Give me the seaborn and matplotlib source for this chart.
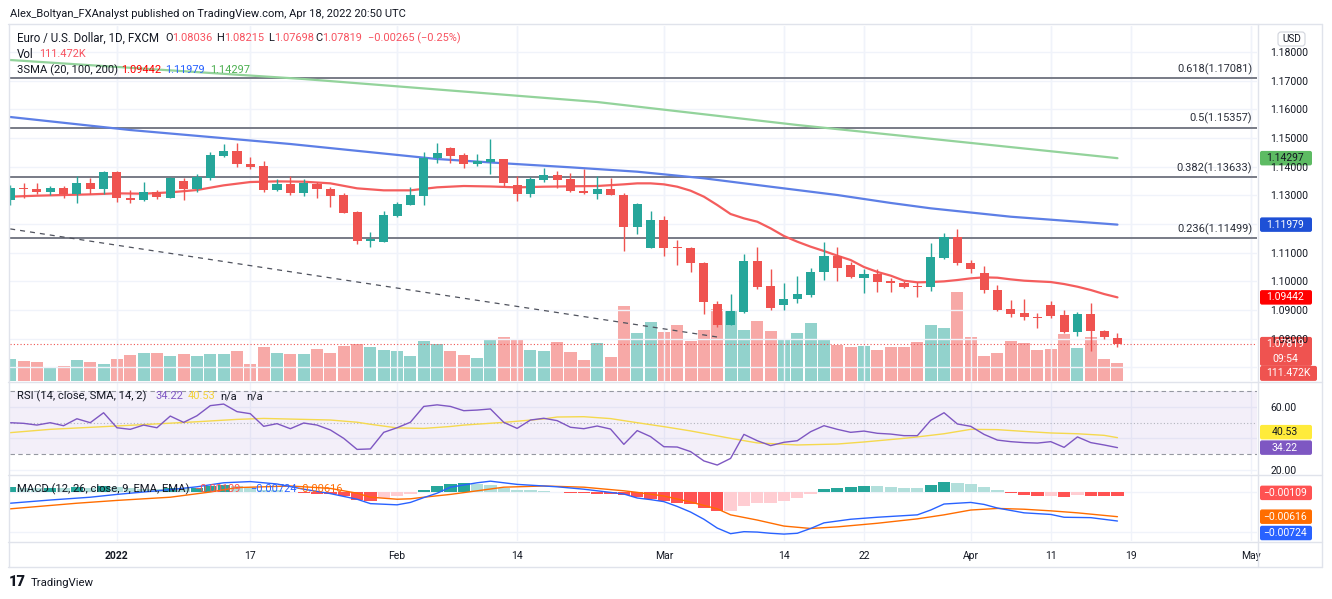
import numpy as np
import matplotlib
matplotlib.use("Agg")
import matplotlib.pyplot as plt
import matplotlib.transforms as mtrans
from matplotlib.patches import FancyBboxPatch
from matplotlib.lines import Line2D
from matplotlib.ticker import FuncFormatter
import seaborn as sns

# ---------------- data ----------------
open_ = [1.12838, 1.13245, 1.13210, 1.13105, 1.13245, 1.13058, 1.13442, 1.13210, 1.13814, 1.12919,
         1.12826, 1.13105, 1.12919, 1.13512, 1.13210, 1.13593, 1.14384, 1.14535, 1.14093, 1.14023,
         1.13186, 1.13407, 1.13070, 1.13384, 1.13233, 1.13000, 1.12407, 1.11419, 1.11384, 1.12279,
         1.12675, 1.12977, 1.14302, 1.14640, 1.14407, 1.14105, 1.14151, 1.14256, 1.13349, 1.13035,
         1.13547, 1.13709, 1.13558, 1.13151, 1.13058, 1.13221, 1.13023, 1.11884, 1.11163, 1.12140,
         1.11186, 1.11175, 1.10640, 1.09198, 1.08489, 1.08931, 1.10710, 1.09826, 1.09163, 1.09372,
         1.09524, 1.10314, 1.10884, 1.10570, 1.10128, 1.10256, 1.10012, 1.09942, 1.09849, 1.09814,
         1.10826, 1.11558, 1.10652, 1.10279, 1.09686, 1.09024, 1.08896, 1.08768, 1.09163, 1.08814,
         1.08233, 1.08873, 1.08268, 1.08036]
high = [1.13361, 1.13419, 1.13442, 1.13326, 1.13326, 1.13675, 1.13593, 1.13849, 1.13837, 1.13186,
        1.13465, 1.13186, 1.13628, 1.13593, 1.13744, 1.14512, 1.14791, 1.14814, 1.14326, 1.14198,
        1.13558, 1.13663, 1.13582, 1.13477, 1.13302, 1.13093, 1.12454, 1.11710, 1.12454, 1.12768,
        1.13279, 1.14512, 1.14814, 1.14674, 1.14465, 1.14442, 1.14953, 1.14279, 1.13675, 1.13651,
        1.13965, 1.13861, 1.13768, 1.13907, 1.13675, 1.13593, 1.13070, 1.12744, 1.12465, 1.12291,
        1.11442, 1.11210, 1.10663, 1.09314, 1.09559, 1.10954, 1.11210, 1.10431, 1.09931, 1.10198,
        1.10465, 1.11361, 1.11186, 1.10675, 1.10419, 1.10419, 1.10128, 1.10024, 1.09989, 1.11349,
        1.11675, 1.11837, 1.10745, 1.10535, 1.09872, 1.09338, 1.09372, 1.08907, 1.09326, 1.09000,
        1.08919, 1.09233, 1.08303, 1.08215]
low = [1.12663, 1.12896, 1.13047, 1.13012, 1.12896, 1.12721, 1.13047, 1.13047, 1.12779, 1.12721,
       1.12791, 1.12861, 1.12896, 1.12838, 1.13128, 1.13535, 1.14326, 1.13977, 1.13907, 1.13128,
       1.13151, 1.13023, 1.12989, 1.12896, 1.12605, 1.12372, 1.11303, 1.11210, 1.11361, 1.12233,
       1.12651, 1.12675, 1.14116, 1.14140, 1.13965, 1.14035, 1.13756, 1.13326, 1.12802, 1.12954,
       1.13454, 1.13245, 1.13116, 1.13060, 1.12884, 1.13000, 1.11070, 1.11651, 1.11151, 1.10896,
       1.10570, 1.10338, 1.08849, 1.08396, 1.08477, 1.08907, 1.09745, 1.09000, 1.09000, 1.09256,
       1.09466, 1.10047, 1.10024, 1.10105, 1.09582, 1.09628, 1.09640, 1.09779, 1.09442, 1.09675,
       1.10768, 1.10582, 1.10279, 1.09593, 1.08966, 1.08745, 1.08652, 1.08361, 1.08733, 1.08210,
       1.08094, 1.07570, 1.07977, 1.07698]
close = [1.13245, 1.13210, 1.13105, 1.13245, 1.13058, 1.13419, 1.13210, 1.13826, 1.12896, 1.12838,
         1.13105, 1.12930, 1.13593, 1.13210, 1.13640, 1.14407, 1.14535, 1.14105, 1.14000, 1.13186,
         1.13407, 1.13082, 1.13442, 1.13210, 1.12989, 1.12384, 1.11419, 1.11477, 1.12303, 1.12698,
         1.13000, 1.14314, 1.14477, 1.14384, 1.14105, 1.14198, 1.14256, 1.13419, 1.13035, 1.13558,
         1.13709, 1.13547, 1.13163, 1.13070, 1.13221, 1.13012, 1.11884, 1.12698, 1.12140, 1.11163,
         1.11151, 1.10628, 1.09268, 1.08489, 1.08966, 1.10710, 1.09791, 1.09082, 1.09372, 1.09547,
         1.10326, 1.10896, 1.10477, 1.10140, 1.10256, 1.09989, 1.09931, 1.09803, 1.09814, 1.10838,
         1.11558, 1.10640, 1.10442, 1.09686, 1.09000, 1.08873, 1.08756, 1.08733, 1.08803, 1.08233,
         1.08873, 1.08256, 1.08059, 1.07819]
volume_k = [134, 124, 119, 85, 93, 130, 116, 103, 138, 161,
            171, 175, 153, 167, 157, 167, 167, 186, 107, 210,
            171, 167, 167, 198, 175, 217, 227, 209, 194, 186,
            157, 248, 227, 186, 161, 142, 254, 274, 258, 190,
            186, 243, 180, 130, 233, 150, 466, 297, 365, 303,
            347, 249, 316, 444, 438, 316, 373, 308, 254, 297,
            357, 260, 221, 209, 217, 190, 210, 209, 243, 347,
            328, 553, 271, 157, 175, 249, 235, 190, 198, 293,
            206, 274, 134, 111.472]

sma20_i = [0, 2, 4, 6, 8, 10, 12, 14, 16, 18, 20, 22, 24, 26, 28, 30, 32, 34, 36, 38, 40, 42, 44,
           46, 47, 48, 49, 50, 51, 52, 53, 54, 55, 56, 57, 58, 59, 60, 61, 62, 63, 64, 65, 66, 67,
           68, 69, 70, 71, 72, 73, 74, 75, 76, 77, 78, 79, 80, 81, 82, 83]
sma20_v = [1.12954, 1.12988, 1.13012, 1.13035, 1.13070, 1.13058, 1.13105, 1.13186, 1.13349, 1.13465,
           1.13488, 1.13477, 1.13419, 1.13245, 1.13175, 1.13175, 1.13280, 1.13326, 1.13310, 1.13279,
           1.13302, 1.13315, 1.13326, 1.13384, 1.13419, 1.13419, 1.13384, 1.13302, 1.13163, 1.12954,
           1.12663, 1.12349, 1.12198, 1.12081, 1.11849, 1.11582, 1.11384, 1.11210, 1.11058, 1.10896,
           1.10744, 1.10500, 1.10330, 1.10200, 1.10024, 1.09966, 1.09977, 1.10000, 1.10047, 1.10105,
           1.10140, 1.10128, 1.10070, 1.10024, 1.10000, 1.09977, 1.09907, 1.09814, 1.09698, 1.09558,
           1.09442]
sma100_i = [0, 9, 21, 32, 37, 42, 47, 52, 57, 62, 66, 69, 75, 83]
sma100_v = [1.15733, 1.15279, 1.14791, 1.14268, 1.14118, 1.13978, 1.13825, 1.13595, 1.13302,
            1.13012, 1.12735, 1.12548, 1.12255, 1.11979]
sma200_i = [0, 22, 44, 59, 67, 83]
sma200_v = [1.17721, 1.17058, 1.16256, 1.15454, 1.15070, 1.14297]

rsi = [50.0, 49.6, 48.5, 50.0, 48.1, 52.5, 50.0, 56.3, 46.8, 45.8,
       48.5, 46.8, 54.2, 50.2, 54.4, 60.8, 61.8, 57.0, 55.7, 47.7,
       49.4, 46.2, 49.8, 48.5, 45.4, 40.1, 33.1, 33.4, 43.9, 46.8,
       50.3, 60.3, 61.3, 60.3, 57.6, 58.0, 58.7, 50.2, 46.4, 51.7,
       52.8, 51.3, 47.1, 46.2, 47.9, 46.0, 36.3, 45.0, 41.2, 34.8,
       34.6, 31.7, 25.8, 23.2, 27.4, 42.6, 38.6, 35.5, 37.6, 38.6,
       44.3, 48.1, 45.8, 43.9, 44.7, 43.3, 42.8, 41.8, 41.8, 51.5,
       56.3, 49.2, 47.7, 42.6, 39.0, 38.0, 37.4, 37.1, 38.0, 34.4,
       41.0, 37.4, 35.9, 34.22]
rsi_ma_i = [0, 3, 7, 10, 14, 17, 19, 21, 24, 26, 27, 29, 31, 33, 34, 37, 40, 41, 43, 45, 47, 49,
            51, 54, 56, 59, 62, 64, 67, 68, 70, 72, 74, 76, 78, 80, 82, 83]
rsi_ma_v = [43.7, 45.8, 47.5, 48.8, 50.6, 52.1, 52.7, 52.3, 51.7, 50.3, 49.0, 46.7, 46.4, 47.6,
            48.5, 50.2, 52.4, 53.6, 53.8, 52.6, 50.0, 47.5, 44.8, 40.1, 37.2, 35.9, 36.5, 37.8,
            40.1, 41.0, 43.0, 45.8, 45.6, 44.5, 43.5, 43.0, 42.0, 40.53]

macd_i = [0, 3, 6, 8, 10, 12, 14, 16, 18, 20, 22, 24, 26, 27, 29, 30, 31, 32, 33, 35, 36, 38, 40,
          41, 43, 45, 46, 47, 48, 49, 50, 51, 52, 53, 54, 55, 56, 57, 58, 59, 60, 61, 63, 65, 68,
          69, 70, 72, 73, 74, 76, 78, 79, 81, 83]
macd_v = [-0.0028, -0.0020, -0.0013, -0.0006, 0.0000, 0.0006, 0.0013, 0.0023, 0.0026, 0.0020,
          0.0007, -0.0004, -0.0018, -0.0029, -0.0032, -0.0026, -0.0014, -0.0003, 0.0012, 0.0023,
          0.0027, 0.0019, 0.0015, 0.0013, 0.0007, -0.0001, -0.0005, -0.0015, -0.0019, -0.0024,
          -0.0036, -0.0050, -0.0068, -0.0090, -0.0104, -0.0099, -0.0100, -0.0103, -0.0105, -0.0103,
          -0.0091, -0.0077, -0.0068, -0.0063, -0.0057, -0.0045, -0.0030, -0.0026, -0.0031, -0.0040,
          -0.0052, -0.0056, -0.0063, -0.0064, -0.00724]
signal_i = [0, 5, 8, 12, 15, 17, 21, 24, 26, 27, 29, 30, 31, 33, 35, 37, 40, 43, 46, 47, 49, 51,
            53, 54, 56, 58, 60, 62, 65, 68, 70, 72, 74, 76, 78, 80, 83]
signal_v = [-0.0042, -0.0028, -0.0021, -0.0013, 0.0000, 0.0011, 0.0015, 0.0009, -0.0003, -0.0013,
            -0.0018, -0.0017, -0.0013, -0.0006, 0.0003, 0.0012, 0.0015, 0.0012, 0.0003, -0.0001,
            -0.0010, -0.0025, -0.0042, -0.0057, -0.0070, -0.0085, -0.0091, -0.0087, -0.0078,
            -0.0067, -0.0057, -0.0045, -0.0041, -0.0043, -0.0047, -0.0052, -0.00616]
hist = [0.0012, 0.0011, 0.0010, 0.0011, 0.0010, 0.0012, 0.0011, 0.0016, 0.0012, 0.0009,
        0.0008, 0.0007, 0.0010, 0.0009, 0.0011, 0.0016, 0.0018, 0.0015, 0.0012, 0.0006,
        0.0004, 0.0001, -0.0003, -0.0004, -0.0006, -0.0011, -0.0021, -0.0023, -0.0015, -0.0010,
        -0.0006, 0.0004, 0.0016, 0.0021, 0.0022, 0.0019, 0.0017, 0.0010, 0.0006, 0.0004,
        0.0003, 0.0001, -0.0002, -0.0003, -0.0004, -0.0005, -0.0008, -0.0012, -0.00166, -0.00233,
        -0.00266, -0.00308, -0.00399, -0.00482, -0.0047, -0.00349, -0.00274, -0.0027, -0.00216, -0.00158,
        -0.00058, 0.00067, 0.00108, 0.00125, 0.0015, 0.00141, 0.00116, 0.00108, 0.00105, 0.00166,
        0.00258, 0.00233, 0.00208, 0.00125, 0.00042, -0.00033, -0.00075, -0.00108, -0.0010, -0.00125,
        -0.00083, -0.0010, -0.00105, -0.00109]

fib_ratio = ["0.618", "0.5", "0.382", "0.236"]
fib_price = [1.17081, 1.15357, 1.13633, 1.11499]
trend_i = [0, 53]
trend_p = [1.1183, 1.0806]
tick_idx = [8, 18, 29, 38, 49, 58, 64, 72, 78, 84, 93]
tick_lab = ["2022", "17", "Feb", "14", "Mar", "14", "22", "Apr", "11", "19", "May"]
price_ticks = [1.07, 1.08, 1.09, 1.10, 1.11, 1.12, 1.13, 1.14, 1.15, 1.16, 1.17, 1.18]
price_hidden = [1.07, 1.12]          # covered by the value boxes
rsi_ticks = [20, 40, 60]
rsi_hidden = [40]
macd_ticks = [-0.01, 0.0]
macd_hidden = [-0.01]

n = len(close)
assert all(len(a) == n for a in (open_, high, low, volume_k, rsi, hist))

# ---------------- style ----------------
sns.set_theme(style="white")
plt.rcParams["font.family"] = ["Roboto", "DejaVu Sans"]
plt.rcParams["axes.unicode_minus"] = True

W, H = 1332, 599
FS = 7.5
LFS = 7.9
DARK = "#131722"
GREEN = "#26A69A"
RED = "#EF5350"
GRID = "#F0F3FA"
FRAME = "#E0E3EB"

fig = plt.figure(figsize=(W / 100, H / 100), dpi=100)
fig.patch.set_facecolor("white")


def axes_px(left, top, right, bottom):
    return fig.add_axes([left / W, 1 - bottom / H, (right - left) / W, (bottom - top) / H])


def fmt_hidden(fmt, hidden):
    def f(v, pos):
        if any(abs(v - hv) < 1e-9 for hv in hidden):
            return ""
        return (fmt % v).replace("-", "\u2212")
    return FuncFormatter(f)


LX, RX = 10, 1257
ax_vol = axes_px(LX, 26, RX, 381)
ax = axes_px(LX, 26, RX, 381)
ax_rsi = axes_px(LX, 382, RX, 474)
ax_macd = axes_px(LX, 475, RX, 541)
ax_vol.set_zorder(0)
ax.set_zorder(1)
ax.patch.set_visible(False)

idx = np.arange(n)
XL = (-0.015, 93.46)
for a in (ax_vol, ax, ax_rsi, ax_macd):
    a.set_xlim(*XL)
    for s in a.spines.values():
        s.set_visible(False)
    a.set_xticks(tick_idx)
    a.tick_params(axis="x", length=0, labelbottom=False)
    a.grid(True, axis="x", color=GRID, lw=1)

o = np.array(open_); c = np.array(close); h = np.array(high); l = np.array(low)
up = c >= o
col = np.where(up, GREEN, RED)

# volume
ax_vol.bar(idx, volume_k, width=0.9, color=np.where(up, "#92D2CC", "#F7A9A7"), linewidth=0)
ax_vol.set_ylim(0, 2198)
ax_vol.set_yticks([])
ax_vol.grid(False, axis="y")

# price pane
ax.set_ylim(1.06525, 1.18907)
ax.set_yticks(price_ticks)
ax.yaxis.set_major_formatter(fmt_hidden("%.5f", price_hidden))
ax.yaxis.tick_right()
ax.tick_params(axis="y", length=0, pad=9.5, labelsize=FS, labelcolor=DARK)
ax.grid(True, axis="y", color=GRID, lw=1)

for fr, fp in zip(fib_ratio, fib_price):
    ax.axhline(fp, color="#787B86", lw=1.4, zorder=2)
    ax.annotate(f"{fr}({fp:.5f})", xy=(93.1, fp), xytext=(0, 2.5), textcoords="offset points",
                ha="right", va="bottom", fontsize=LFS, color="#2A2E39")

ax.plot(trend_i, trend_p, color="#50535E", lw=0.9, ls=(0, (4, 4)), zorder=2)
ax.axhline(c[-1], color=RED, lw=0.8, ls=(0, (1, 2)), zorder=2)

sns.lineplot(x=sma200_i, y=sma200_v, ax=ax, color="#93D39B", lw=1.6, zorder=3)
sns.lineplot(x=sma100_i, y=sma100_v, ax=ax, color="#5D7FE6", lw=1.6, zorder=3)
sns.lineplot(x=sma20_i, y=sma20_v, ax=ax, color="#F45D5D", lw=1.6, zorder=3)

ax.vlines(idx, l, h, colors=col, lw=1.0, zorder=4)
ax.bar(idx, np.maximum(np.abs(c - o), 0.00005), bottom=np.minimum(o, c), width=0.68,
       color=col, linewidth=0, zorder=5)
ax.set_xlabel(""); ax.set_ylabel("")

# RSI pane
ax_rsi.set_ylim(17.53, 75.76)
ax_rsi.axhspan(30, 70, color="#7E57C2", alpha=0.09, lw=0)
ax_rsi.axhline(70, color="#9598A1", lw=0.8, ls=(0, (4, 3)))
ax_rsi.axhline(30, color="#9598A1", lw=0.8, ls=(0, (4, 3)))
ax_rsi.axhline(50, color="#B2B5BE", lw=0.8, ls=(0, (1, 2)))
sns.lineplot(x=rsi_ma_i, y=rsi_ma_v, ax=ax_rsi, color="#F5D94E", lw=1.0)
sns.lineplot(x=idx, y=rsi, ax=ax_rsi, color="#7E57C2", lw=1.0)
ax_rsi.set_yticks(rsi_ticks)
ax_rsi.yaxis.set_major_formatter(fmt_hidden("%.2f", rsi_hidden))
ax_rsi.yaxis.tick_right()
ax_rsi.tick_params(axis="y", length=0, pad=9.5, labelsize=FS, labelcolor=DARK)
ax_rsi.grid(True, axis="y", color=GRID, lw=1)
ax_rsi.set_xlabel(""); ax_rsi.set_ylabel("")

# MACD pane
hv = np.array(hist)
prev = np.concatenate([[hv[0]], hv[:-1]])
hcol = np.where(hv >= 0, np.where(hv >= prev, "#26A69A", "#B2DFDB"),
                np.where(hv <= prev, "#FF5252", "#FFCDD2"))
ax_macd.set_ylim(-0.012226, 0.004242)
ax_macd.bar(idx, hv, width=0.92, color=hcol, linewidth=0)
sns.lineplot(x=signal_i, y=signal_v, ax=ax_macd, color="#FF6D00", lw=1.0)
sns.lineplot(x=macd_i, y=macd_v, ax=ax_macd, color="#2962FF", lw=1.0)
ax_macd.set_yticks(macd_ticks)
ax_macd.yaxis.set_major_formatter(fmt_hidden("%.5f", macd_hidden))
ax_macd.yaxis.tick_right()
ax_macd.tick_params(axis="y", length=0, pad=9.5, labelsize=FS, labelcolor=DARK)
ax_macd.grid(True, axis="y", color=GRID, lw=1)
ax_macd.set_xticklabels(tick_lab)
ax_macd.tick_params(axis="x", labelbottom=True, pad=7, labelsize=FS, labelcolor=DARK)
ax_macd.get_xticklabels()[0].set_fontweight("bold")
ax_macd.set_xlabel(""); ax_macd.set_ylabel("")

# ---------------- frame lines ----------------
def hline_px(y, x0=8, x1=1322, color=FRAME, lw=1):
    fig.add_artist(Line2D([x0 / W, x1 / W], [1 - y / H, 1 - y / H], color=color, lw=lw,
                          transform=fig.transFigure))


def vline_px(x, y0, y1, color=FRAME, lw=1):
    fig.add_artist(Line2D([x / W, x / W], [1 - y0 / H, 1 - y1 / H], color=color, lw=lw,
                          transform=fig.transFigure))


for yy in (24, 381.5, 474.5, 541.5, 566.5):
    hline_px(yy)
vline_px(8.5, 24, 567)
vline_px(1322, 24, 567)
vline_px(1258, 24, 567)

# ---------------- value boxes on the price scale ----------------
ID = mtrans.IdentityTransform()


def box_px(x0, y0, w, hh, bg):
    fig.add_artist(FancyBboxPatch((x0, y0), w, hh, boxstyle="round,pad=0,rounding_size=2",
                                  fc=bg, ec="none", transform=ID))


def value_box(axis, value, lines, bg, fg, dy=0, x0=1260, w=52, lh=14.5, top_off=None):
    _, yd = axis.transData.transform((0, value))
    yd = yd - dy
    hh = lh * len(lines)
    top = yd + (lh / 2 if top_off is None else top_off)
    box_px(x0, top - hh, w, hh, bg)
    for k, s in enumerate(lines):
        fig.text(x0 + w / 2 - 1, top - lh * (k + 0.5), s, transform=ID, ha="center", va="center",
                 fontsize=FS, color=fg)
    return top - hh


def m(v, f="%.5f"):
    return (f % v).replace("-", "\u2212")


value_box(ax, sma200_v[-1], [m(sma200_v[-1])], "#5DBB63", DARK)
value_box(ax, sma100_v[-1], [m(sma100_v[-1])], "#1E50D6", "white")
value_box(ax, sma20_v[-1], [m(sma20_v[-1])], "#FF0000", "white")
bottom_last = value_box(ax, c[-1], [m(c[-1]), "09:54"], RED, "white", top_off=7)
box_px(1260, bottom_last - 15, 57, 15, RED)
fig.text(1288, bottom_last - 7.5, f"{volume_k[-1]:.3f}K", transform=ID, ha="center", va="center",
         fontsize=FS, color="white")

value_box(ax_rsi, rsi_ma_v[-1], [m(rsi_ma_v[-1], "%.2f")], "#FFEB3B", DARK, dy=-5.5)
value_box(ax_rsi, rsi[-1], [m(rsi[-1], "%.2f")], "#7E57C2", "white")
value_box(ax_macd, hist[-1], [m(hist[-1])], "#FF5252", "white", dy=-3.5)
value_box(ax_macd, signal_v[-1], [m(signal_v[-1])], "#FF6D00", "white")
value_box(ax_macd, macd_v[-1], [m(macd_v[-1])], "#2962FF", "white", dy=12)

# USD box
fig.add_artist(FancyBboxPatch((1278, H - 46), 27, 14, boxstyle="round,pad=0,rounding_size=3",
                              fc="white", ec="#D1D4DC", lw=0.8, transform=ID))
fig.text(1291.5, H - 39, "USD", transform=ID, ha="center", va="center", fontsize=FS - 0.3, color=DARK)

# ---------------- legends / header text ----------------
def t(x, y, s, color=DARK, size=LFS, **kw):
    return fig.text(x / W, 1 - y / H, s, color=color, fontsize=size, ha="left", va="center", **kw)


t(10, 14, "Alex_Boltyan_FXAnalyst published on TradingView.com, Apr 18, 2022 20:50 UTC", size=8.05)
DN = "#F7525F"
t(17, 38, "Euro / U.S. Dollar, 1D, FXCM", size=8.3)
t(165, 38, "O"); t(172.5, 38, m(open_[-1]), DN)
t(216.5, 38, "H"); t(224.5, 38, m(high[-1]), DN)
t(268, 38, "L"); t(274, 38, m(low[-1]), DN)
t(315, 38, "C"); t(322, 38, m(close[-1]), DN)
t(368, 38, "\u22120.00265 (\u22120.25%)", DN)
t(17, 54, "Vol", size=8.3); t(39, 54, f"{volume_k[-1]:.3f}K", DN)
t(17, 70, "3SMA (20, 100, 200)", size=8.1)
t(121, 70, m(sma20_v[-1]), "#FF0000")
t(165, 70, m(sma100_v[-1]), "#2962FF")
t(210, 70, m(sma200_v[-1]), "#4CAF50")

t(17, 396, "RSI (14, close, SMA, 14, 2)", size=8.1)
t(155, 396, m(rsi[-1], "%.2f"), "#7E57C2")
t(188, 396, m(rsi_ma_v[-1], "%.2f"), "#F2D23A")
t(220, 396, "n/a"); t(246, 396, "n/a")

t(17, 489, "MACD (12, 26, close, 9, EMA, EMA)", size=8.1)
t(194, 489, m(hist[-1]), "#FF5252")
t(250, 489, m(macd_v[-1]), "#2962FF")
t(296, 489, m(signal_v[-1]), "#FF6D00")

# TradingView logo
t(9, 582, "17", size=10.5, weight="heavy")
t(31, 583, "TradingView", size=8.2)

fig.savefig("out.png", dpi=100, facecolor="white")
